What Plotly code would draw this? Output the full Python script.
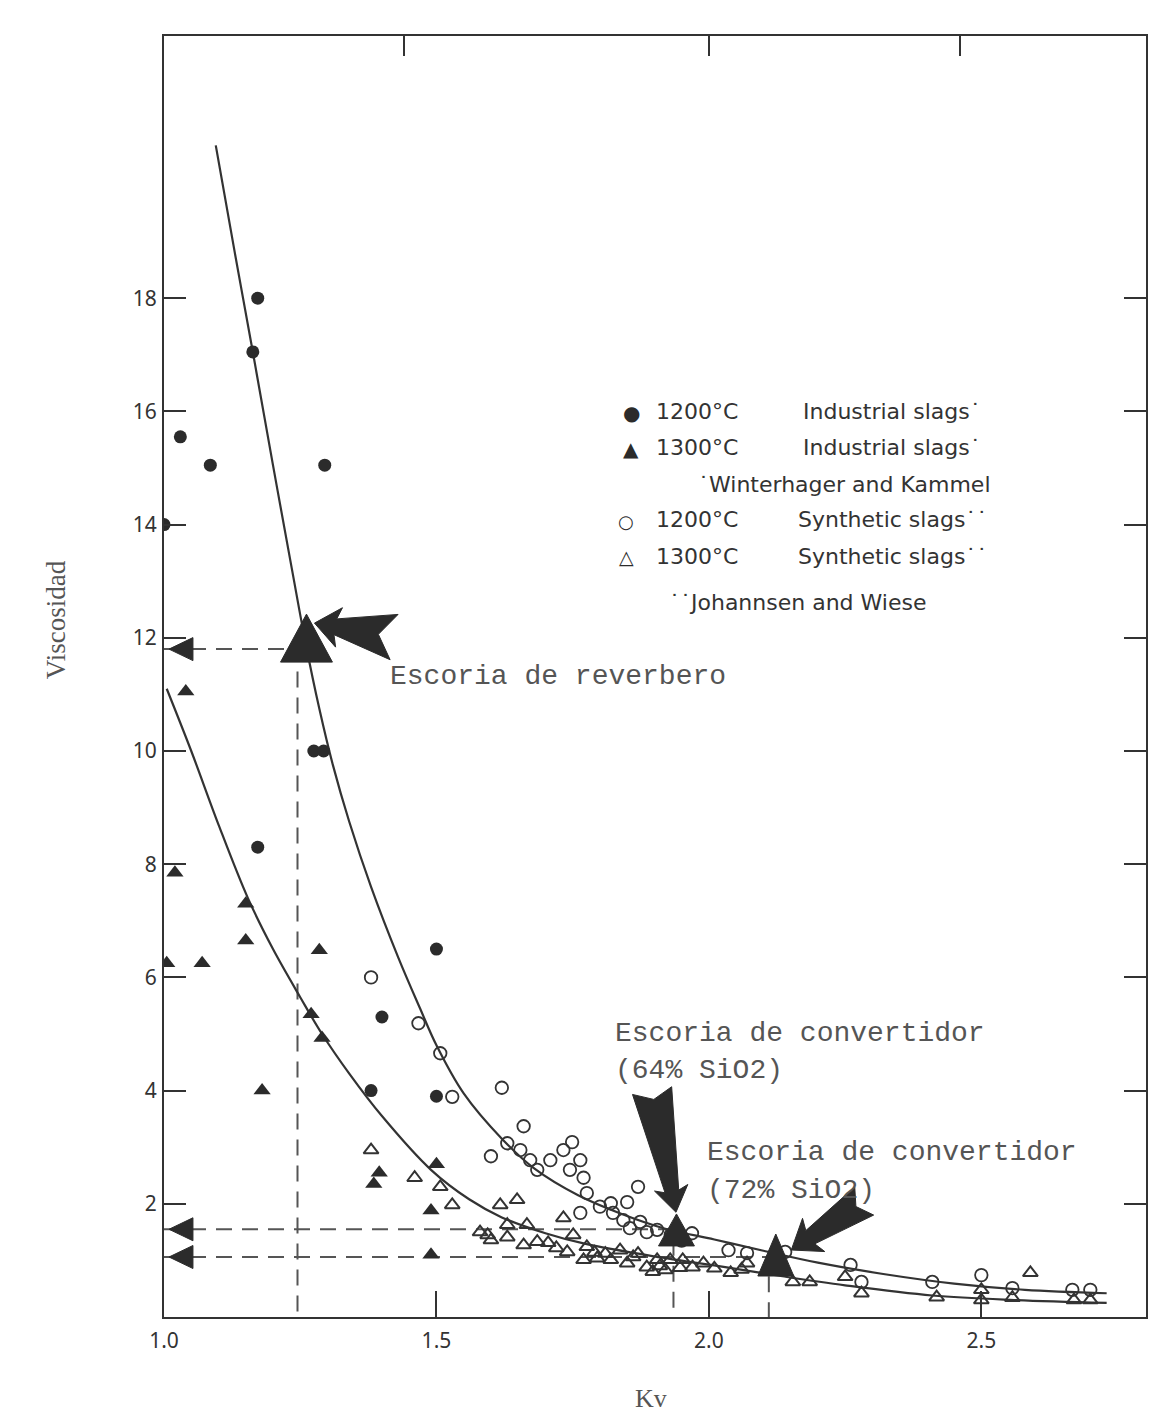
import math
import plotly.graph_objects as go

# ---------------- data ----------------
# Industrial slags (Winterhager and Kammel)
ind1200_kv = [1.0, 1.03, 1.085, 1.163, 1.172, 1.295, 1.275, 1.293, 1.172, 1.40, 1.38, 1.50, 1.50]
ind1200_v = [14.0, 15.55, 15.05, 17.05, 18.0, 15.05, 10.0, 10.0, 8.3, 5.3, 4.0, 6.5, 3.9]

ind1300_kv = [1.04, 1.02, 1.005, 1.07, 1.15, 1.15, 1.285, 1.27, 1.29, 1.18, 1.385, 1.395, 1.50, 1.49, 1.49]
ind1300_v = [11.05, 7.85, 6.25, 6.25, 7.3, 6.65, 6.48, 5.35, 4.93, 4.0, 2.35, 2.55, 2.7, 1.88, 1.1]

# Synthetic slags (Johannsen and Wiese)
syn1200_kv = [1.38, 1.467, 1.507, 1.529, 1.62, 1.66, 1.60, 1.63, 1.654, 1.672, 1.685, 1.709, 1.733,
              1.749, 1.745, 1.764, 1.77, 1.776, 1.764, 1.82, 1.85, 1.87, 1.824, 1.843, 1.855, 1.874,
              1.886, 1.905, 1.969, 2.036, 2.07, 2.14, 2.26, 2.28, 2.41, 2.50, 2.557, 2.667, 2.70,
              1.80, 1.93, 1.95]
syn1200_v = [6.0, 5.19, 4.66, 3.89, 4.05, 3.37, 2.84, 3.07, 2.95, 2.77, 2.6, 2.77, 2.95,
             3.09, 2.6, 2.77, 2.46, 2.19, 1.84, 2.01, 2.03, 2.3, 1.84, 1.71, 1.57, 1.68,
             1.5, 1.54, 1.48, 1.18, 1.13, 1.15, 0.92, 0.62, 0.62, 0.74, 0.51, 0.48, 0.48,
             1.95, 1.45, 1.35]

syn1300_kv = [1.38, 1.46, 1.507, 1.529, 1.594, 1.617, 1.648, 1.63, 1.666, 1.60, 1.63, 1.66, 1.685,
              1.705, 1.733, 1.751, 1.776, 1.77, 1.795, 1.82, 1.837, 1.861, 1.886, 1.905, 1.929,
              1.952, 1.97, 1.897, 1.92, 1.947, 2.04, 2.07, 2.154, 2.185, 2.25, 2.28, 2.418, 2.50,
              2.50, 2.59, 2.557, 2.67, 2.70,
              1.72, 1.74, 1.79, 1.81, 1.85, 1.87, 1.91, 1.99, 2.01, 2.06, 1.58]
syn1300_v = [2.95, 2.46, 2.3, 1.98, 1.45, 1.98, 2.07, 1.63, 1.63, 1.36, 1.41, 1.27, 1.33,
             1.31, 1.75, 1.45, 1.24, 1.01, 1.04, 1.01, 1.18, 1.06, 0.88, 1.01, 1.01,
             1.01, 0.88, 0.8, 0.83, 0.87, 0.78, 0.95, 0.62, 0.62, 0.71, 0.42, 0.35, 0.48,
             0.3, 0.78, 0.34, 0.3, 0.3,
             1.22, 1.15, 1.14, 1.12, 0.95, 1.12, 0.9, 0.95, 0.86, 0.84, 1.5]

# Fitted curves
curve1200_kv = [1.095, 1.13, 1.163, 1.20, 1.235, 1.26, 1.285, 1.31, 1.34, 1.38, 1.43, 1.47, 1.50,
                1.55, 1.62, 1.68, 1.76, 1.84, 1.92, 2.01, 2.10, 2.20, 2.32, 2.45, 2.58, 2.73]
curve1200_v = [20.7, 18.8, 17.05, 15.05, 13.2, 11.9, 10.75, 9.75, 8.75, 7.6, 6.35, 5.45, 4.8,
               3.95, 3.15, 2.62, 2.15, 1.82, 1.56, 1.37, 1.17, 0.96, 0.76, 0.59, 0.48, 0.42]

curve1300_kv = [1.005, 1.05, 1.10, 1.154, 1.20, 1.25, 1.29, 1.34, 1.40, 1.49, 1.56, 1.62, 1.70,
                1.77, 1.90, 2.03, 2.135, 2.25, 2.41, 2.56, 2.73]
curve1300_v = [11.1, 10.0, 8.7, 7.4, 6.5, 5.65, 5.0, 4.3, 3.55, 2.6, 2.08, 1.76, 1.48,
               1.3, 1.07, 0.88, 0.72, 0.56, 0.38, 0.3, 0.25]

# Highlighted slags
slag_names = ["Escoria de reverbero", "Escoria de convertidor\n(64% SiO2)", "Escoria de convertidor\n(72% SiO2)"]
slag_kv = [1.245, 1.935, 2.11]
slag_v = [11.8, 1.55, 1.06]

# Axis ticks
x_ticks = [1.0, 1.5, 2.0, 2.5]
x_ticktext = ["1.0", "1.5", "2.0", "2.5"]
x_top_ticks = [1.44, 2.0, 2.46]
y_ticks = [2, 4, 6, 8, 10, 12, 14, 16, 18]

# ---------------- geometry ----------------
OFF = 8                      # page body margin
W, H = 1145, 1405
ML, MT = 156, 28
PW, PH = 984, 1281
MR, MB = W - ML - PW, H - MT - PH
PX_PER_X = 546.0
PX_PER_Y = 56.6
X_MIN, X_MAX = 1.0, 1.0 + PW / PX_PER_X
Y_MIN, Y_MAX = 0.0, PH / PX_PER_Y

INK = "#2b2b2b"
LINE = "#333333"
GREY = "#555555"


def px2paper(px, py):
    return (px - OFF - ML) / PW, (OFF + MT + PH - py) / PH


def tri_up(kv, v, w, h):
    xs = [kv - w / 2 / PX_PER_X, kv + w / 2 / PX_PER_X, kv, kv - w / 2 / PX_PER_X]
    ys = [v - h / 3 / PX_PER_Y, v - h / 3 / PX_PER_Y, v + 2 * h / 3 / PX_PER_Y, v - h / 3 / PX_PER_Y]
    return xs, ys


def tri_left(tip_kv, v, w, h):
    xs = [tip_kv, tip_kv + w / PX_PER_X, tip_kv + w / PX_PER_X, tip_kv]
    ys = [v, v + h / 2 / PX_PER_Y, v - h / 2 / PX_PER_Y, v]
    return xs, ys


def arrow(tip_kv, tip_v, dpx, dpy, L, Hh, Wb, wn, wt, N):
    n = math.hypot(dpx, dpy)
    ux, uy = dpx / n, dpy / n
    vx, vy = -uy, ux
    local = [(0, 0), (Hh, Wb), (Hh * 0.85, wn), (L, wt), (L - N, 0), (L, -wt),
             (Hh * 0.85, -wn), (Hh, -Wb), (0, 0)]
    xs, ys = [], []
    for u, s in local:
        ox = u * ux + s * vx
        oy = u * uy + s * vy
        xs.append(tip_kv + ox / PX_PER_X)
        ys.append(tip_v - oy / PX_PER_Y)
    return xs, ys


fig = go.Figure()

# dashed reference lines from the highlighted slags
for kv, v in zip(slag_kv, slag_v):
    fig.add_trace(go.Scatter(x=[X_MIN, kv, kv], y=[v, v, Y_MIN], mode="lines",
                             line=dict(color=GREY, width=2, dash="16px,10px"),
                             hoverinfo="skip", showlegend=False))

# curves
for cx, cy in [(curve1200_kv, curve1200_v), (curve1300_kv, curve1300_v)]:
    fig.add_trace(go.Scatter(x=cx, y=cy, mode="lines",
                             line=dict(color=LINE, width=2.2, shape="spline", smoothing=1.0),
                             hoverinfo="skip", showlegend=False))

# data points
fig.add_trace(go.Scatter(x=syn1200_kv, y=syn1200_v, mode="markers", name="1200°C Synthetic slags",
                         marker=dict(symbol="circle-open", size=12.5, color=LINE, line=dict(width=1.8, color=LINE))))
fig.add_trace(go.Scatter(x=syn1300_kv, y=syn1300_v, mode="markers", name="1300°C Synthetic slags",
                         marker=dict(symbol="triangle-up-open", size=13, color=LINE, line=dict(width=2, color=LINE))))
fig.add_trace(go.Scatter(x=ind1200_kv, y=ind1200_v, mode="markers", name="1200°C Industrial slags",
                         marker=dict(symbol="circle", size=13, color=INK)))
fig.add_trace(go.Scatter(x=ind1300_kv, y=ind1300_v, mode="markers", name="1300°C Industrial slags",
                         marker=dict(symbol="triangle-up", size=15, color=INK)))

# big highlight triangles: (offset px right, offset px up, width, height)
big_specs = [(9, 3, 52, 48), (3, -6, 36, 32), (7, -5, 36, 42)]
for (kv, v), (ox, oy, w, h) in zip(zip(slag_kv, slag_v), big_specs):
    xs, ys = tri_up(kv + ox / PX_PER_X, v + oy / PX_PER_Y, w, h)
    fig.add_trace(go.Scatter(x=xs, y=ys, mode="lines", fill="toself", fillcolor=INK,
                             line=dict(color=INK, width=1), hoverinfo="skip", showlegend=False))
    # marker on the Viscosidad axis
    xs, ys = tri_left(X_MIN + 5 / PX_PER_X, v, 24, 23)
    fig.add_trace(go.Scatter(x=xs, y=ys, mode="lines", fill="toself", fillcolor=INK,
                             line=dict(color=INK, width=1), hoverinfo="skip", showlegend=False))

# big arrows pointing at the slags (offsets in pixels from each slag)
arrow_specs = [
    # tip offset (px right, px up), direction tip->tail (screen), L, head, barb, neck, tail, notch
    ((17, 26), (80, 14), 81, 25, 20, 8, 23, 16),
    ((2.5, 17), (-24, -122), 124, 25, 17, 7, 20, 9),
    ((22.5, 7), (73, -49), 88, 27, 20, 8, 17, 10),
]
for (kv, v), (off, d, L, Hh, Wb, wn, wt, N) in zip(zip(slag_kv, slag_v), arrow_specs):
    xs, ys = arrow(kv + off[0] / PX_PER_X, v + off[1] / PX_PER_Y, d[0], d[1], L, Hh, Wb, wn, wt, N)
    fig.add_trace(go.Scatter(x=xs, y=ys, mode="lines", fill="toself", fillcolor=INK,
                             line=dict(color=INK, width=1), hoverinfo="skip", showlegend=False))

# dummy trace for the top tick axis
fig.add_trace(go.Scatter(x=[None], y=[None], xaxis="x2", showlegend=False, hoverinfo="skip"))

annotations = []


def add_text(px, py, text, size, family, color=LINE, xanchor="left", angle=0):
    ax, ay = px2paper(px, py)
    annotations.append(dict(x=ax, y=ay, xref="paper", yref="paper", text=text, showarrow=False,
                            xanchor=xanchor, yanchor="middle", textangle=angle,
                            font=dict(size=size, family=family, color=color)))


SANS = "DejaVu Sans"
MONO = "Liberation Mono"
SERIF = "Liberation Serif"
DOT = "˙"

# legend block
add_text(632, 413, "●", 20, SANS, INK, xanchor="center")
add_text(655, 411, "1200°C", 22, SANS)
add_text(802, 411, "Industrial slags" + DOT, 22, SANS)
add_text(632, 449, "▲", 20, SANS, INK, xanchor="center")
add_text(655, 447, "1300°C", 22, SANS)
add_text(802, 447, "Industrial slags" + DOT, 22, SANS)
add_text(697, 484, DOT + "Winterhager and Kammel", 22, SANS)
add_text(627, 521, "○", 18, SANS, INK, xanchor="center")
add_text(655, 520, "1200°C", 22, SANS)
add_text(797, 520, "Synthetic slags" + DOT + DOT, 22, SANS)
add_text(627, 557, "△", 19, SANS, INK, xanchor="center")
add_text(655, 556, "1300°C", 22, SANS)
add_text(797, 556, "Synthetic slags" + DOT + DOT, 22, SANS)
add_text(668, 602, DOT + DOT + "Johannsen and Wiese", 22, SANS)

# slag labels (typewriter)
add_text(388, 676, slag_names[0], 28, MONO, GREY)
n1 = slag_names[1].split("\n")
add_text(614, 1033, n1[0], 28, MONO, GREY)
add_text(614, 1070, n1[1], 28, MONO, GREY)
n2 = slag_names[2].split("\n")
add_text(706, 1152, n2[0], 28, MONO, GREY)
add_text(706, 1190, n2[1], 28, MONO, GREY)

# axis titles
add_text(56, 620, "Viscosidad", 27, SERIF, GREY, xanchor="center", angle=-90)
add_text(652, 1398, "Kv", 26, SERIF, GREY, xanchor="center")

fig.update_layout(
    width=W, height=H,
    margin=dict(l=ML, r=MR, t=MT, b=MB),
    paper_bgcolor="white", plot_bgcolor="white",
    showlegend=False,
    annotations=annotations,
    xaxis=dict(range=[X_MIN, X_MAX], tickvals=x_ticks, ticktext=x_ticktext,
               ticks="inside", ticklen=26, tickwidth=2, tickcolor=LINE,
               showline=True, linecolor=LINE, linewidth=2, mirror=True,
               showgrid=False, zeroline=False, ticklabelstandoff=4,
               tickfont=dict(family="Noto Sans", size=21, color=LINE)),
    xaxis2=dict(range=[X_MIN, X_MAX], overlaying="x", side="top", anchor="y",
                tickvals=x_top_ticks, ticks="inside", ticklen=20, tickwidth=2, tickcolor=LINE,
                showticklabels=False, showline=False, showgrid=False, zeroline=False),
    yaxis=dict(range=[Y_MIN, Y_MAX], tickvals=y_ticks,
               ticks="inside", ticklen=22, tickwidth=2, tickcolor=LINE,
               showline=True, linecolor=LINE, linewidth=2, mirror="ticks",
               showgrid=False, zeroline=False, ticklabelstandoff=1,
               tickfont=dict(family="Noto Sans", size=21, color=LINE)),
)

fig.write_html("out.html")
